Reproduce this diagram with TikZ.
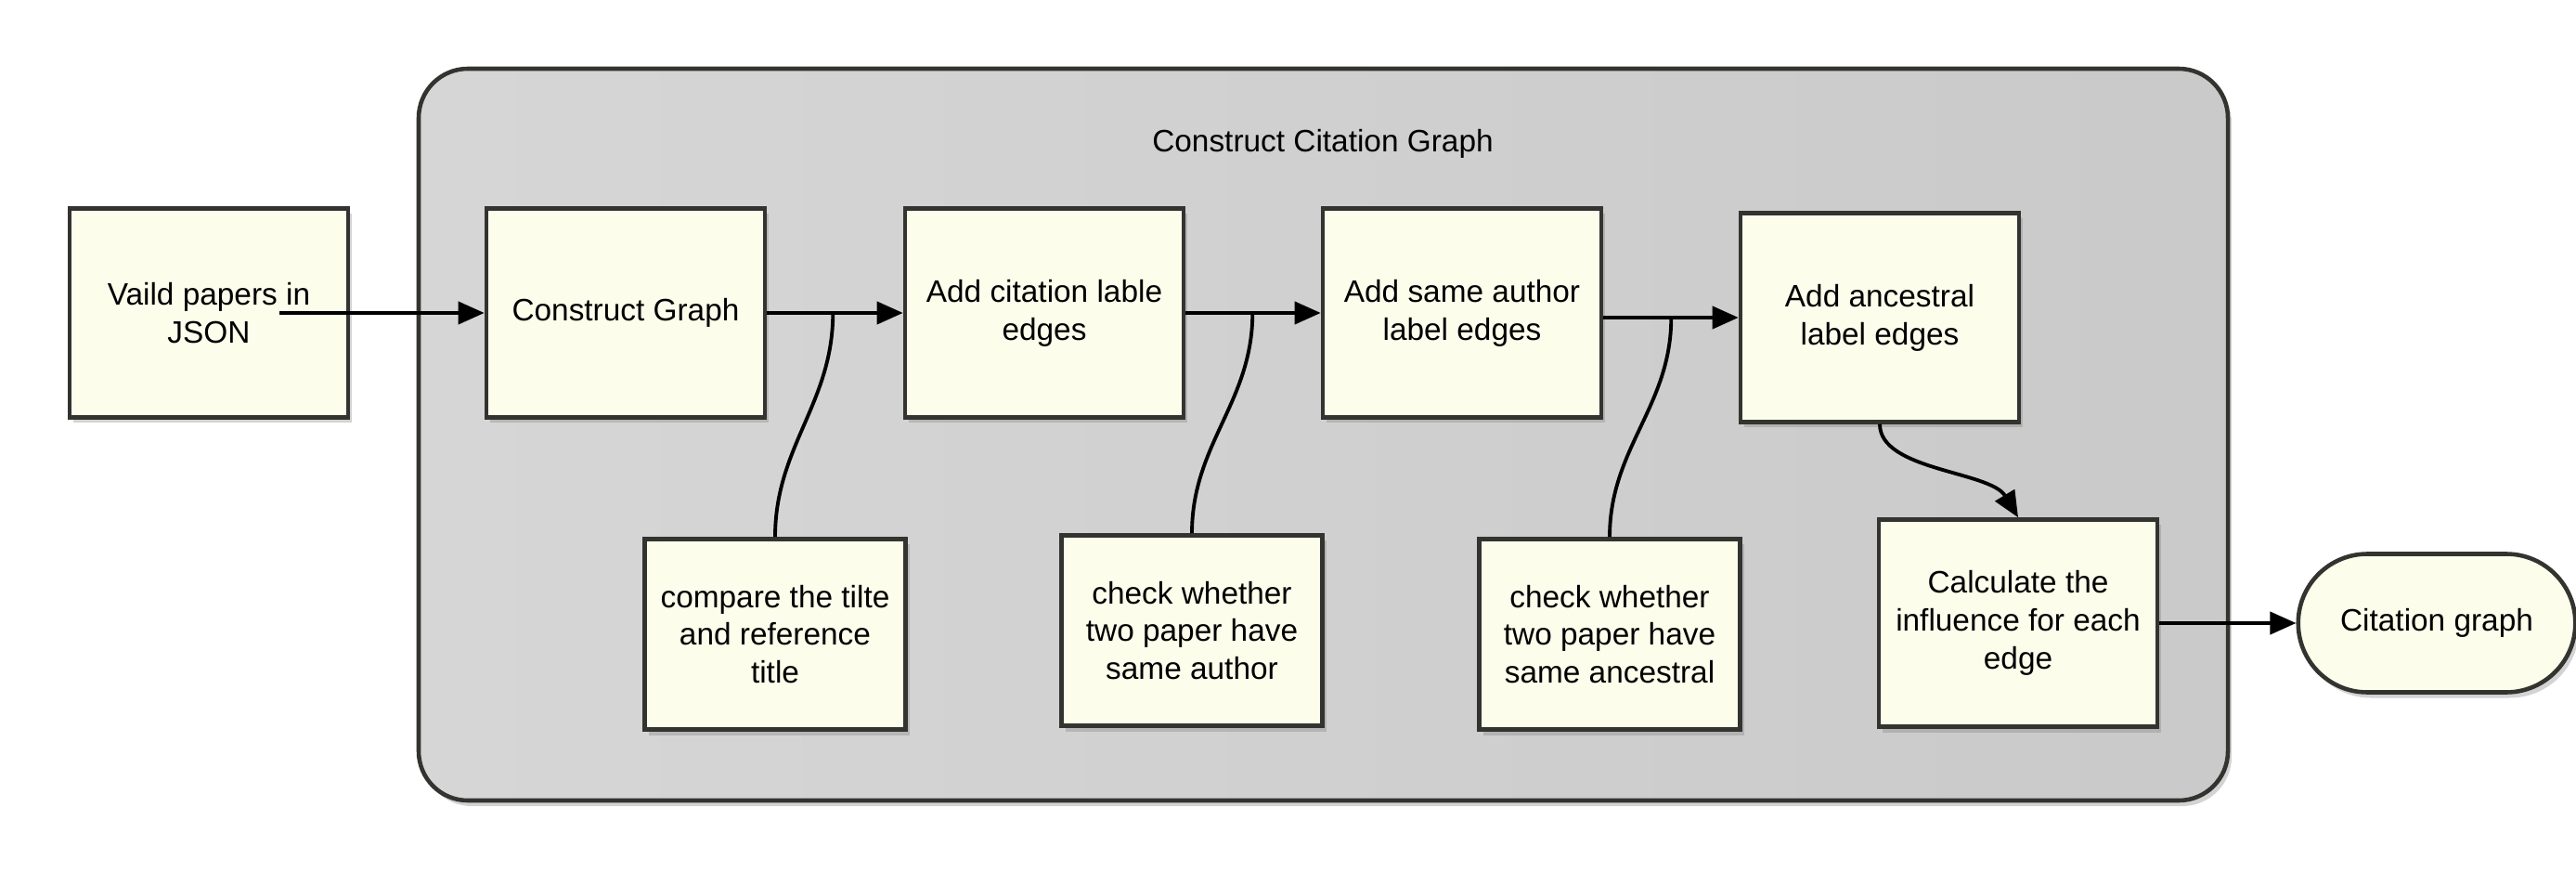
\documentclass[tikz,border=0pt]{standalone}
\usepackage{fontspec}
\setmainfont{Liberation Sans}
\usepackage{tikz}
\usepackage{xcolor}
\usetikzlibrary{arrows.meta, shapes.misc, shadows}
\definecolor{cgyellow}{RGB}{253, 253, 236}
\definecolor{cgline}{RGB}{51, 51, 48}
\tikzset{
    cgbox/.style={rectangle, draw=cgline, line width=1.3pt, fill=cgyellow, minimum width=3cm, minimum height=2.25cm, align=center, font=\fontsize{9.5}{11.6}\selectfont, drop shadow={shadow xshift=0.04cm, shadow yshift=-0.06cm, opacity=0.35}},
    cgnote/.style={cgbox, minimum width=2.81cm, minimum height=2.05cm},
    cgend/.style={cgbox, rounded rectangle, minimum width=3.22cm, minimum height=1.49cm},
    cgpanel/.style={rectangle, rounded corners=0.53cm, draw=cgline, line width=1.3pt, left color=black!16, right color=black!21, minimum width=19.49cm, minimum height=7.88cm, drop shadow={shadow xshift=0.04cm, shadow yshift=-0.06cm, opacity=0.35}},
    cgarrow/.style={-{Triangle[length=2.8mm, width=2.4mm]}, line width=1.1pt, black},
    cglink/.style={line width=1.1pt, black}
}

\begin{document}
\begin{tikzpicture}
                \useasboundingbox (0,0) rectangle (27.75,9.38);
                \node[cgpanel] (panel) at (14.255,4.70) {};
                \node[font=\fontsize{9.5}{11.6}\selectfont] (title) at (14.25,7.83) {Construct Citation Graph};
                \node[cgbox] (valid) at (2.25,6.01) {Vaild papers in\\JSON};
                \node[cgbox] (construct) at (6.74,6.01) {Construct Graph};
                \node[cgbox] (citation) at (11.25,6.01) {Add citation lable\\edges};
                \node[cgbox] (author) at (15.75,6.01) {Add same author\\label edges};
                \node[cgbox] (ancestral) at (20.25,5.96) {Add ancestral\\label edges};
                \node[cgnote] (compare) at (8.35,2.55) {compare the tilte\\and reference\\title};
                \node[cgnote] (checkauthor) at (12.84,2.59) {check whether\\two paper have\\same author};
                \node[cgnote] (checkanc) at (17.34,2.55) {check whether\\two paper have\\same ancestral};
                \node[cgbox, minimum height=2.23cm] (influence) at (21.74,2.67) {Calculate the\\influence for each\\edge};
                \node[cgend] (result) at (26.25,2.67) {Citation graph};
                % arrows along the pipeline
                \coordinate (jsonout) at ([xshift=0.76cm]valid.center);
                \draw[cgarrow] (jsonout) -- (construct);
                \draw[cgarrow] (construct) -- (citation);
                \draw[cgarrow] (citation) -- (author);
                \draw[cgarrow] (author.east |- ancestral) -- (ancestral);
                \draw[cgarrow] (ancestral.south) .. controls +(0,-0.5) and +(-0.3,0.5) .. (influence.north);
                \draw[cgarrow] (influence) -- (result);
                % notes joined to the arrows
                \coordinate (j1) at ([xshift=0.71cm]construct.east);
                \coordinate (j2) at ([xshift=0.72cm]citation.east);
                \coordinate (j3) at ([xshift=0.73cm]author.east);
                \draw[cglink] (compare.north) to[out=90, in=-90] (j1);
                \draw[cglink] (checkauthor.north) to[out=90, in=-90] (j2);
                \draw[cglink] (checkanc.north) to[out=90, in=-90] (j3 |- ancestral);
            \end{tikzpicture}
\end{document}
